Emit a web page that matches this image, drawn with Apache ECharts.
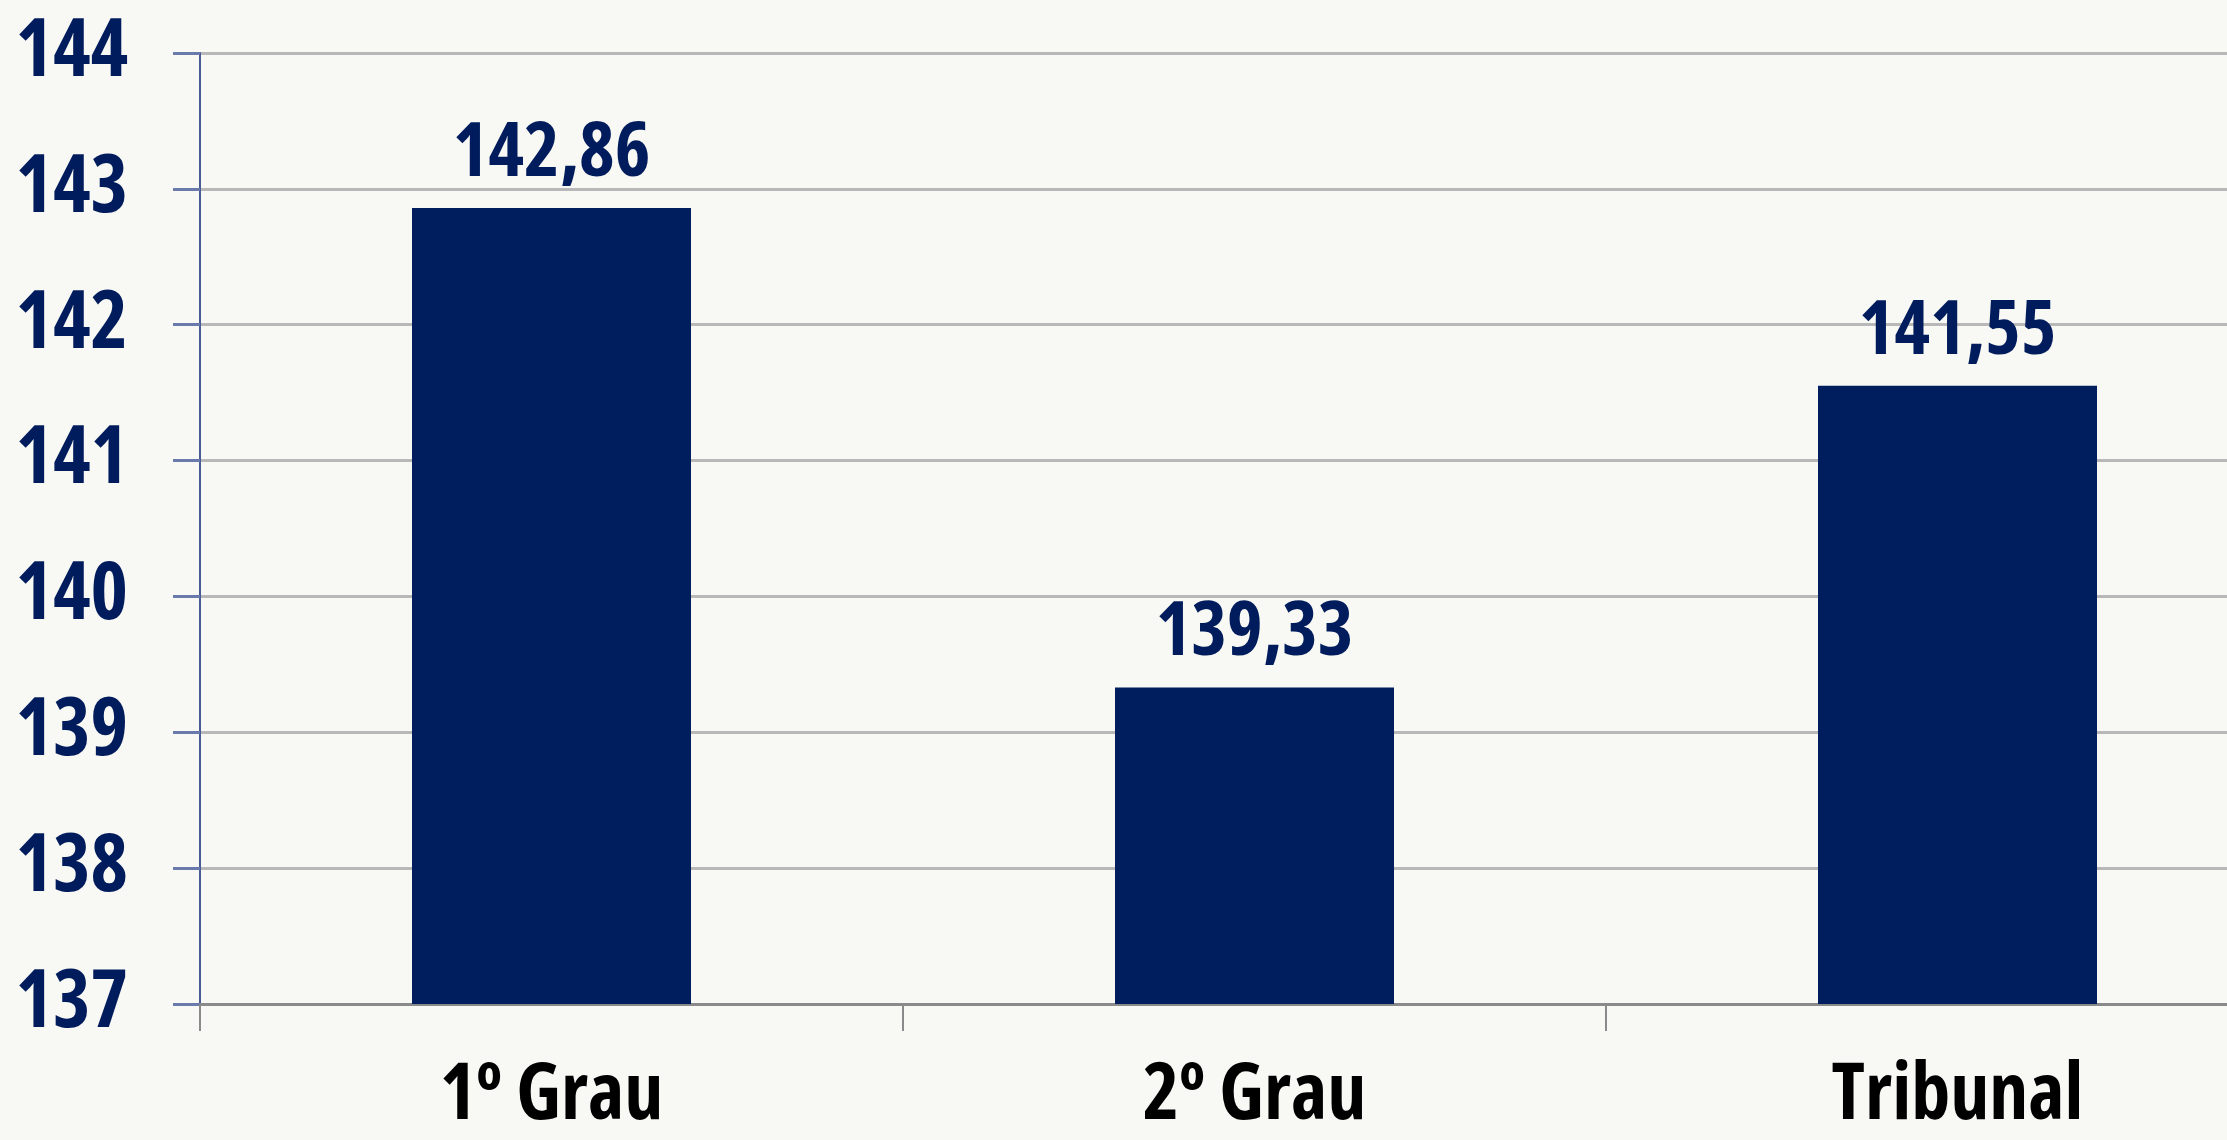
<!DOCTYPE html>
<html><head><meta charset="utf-8">
<script src="https://cdn.jsdelivr.net/npm/echarts@6/dist/echarts.min.js"></script>
<style>html,body{margin:0;padding:0;background:#f8f8f4;}#c{width:2227px;height:1140px;}</style>
</head><body><div id="c"></div>
<script>
const categories = ['1º Grau', '2º Grau', 'Tribunal'];
const values = [142.86, 139.33, 141.55];
const yTicks = [137, 138, 139, 140, 141, 142, 143, 144];

const FONT = '"Open Sans", "Roboto Condensed", sans-serif';
const WEIGHT = 'condensed bold';
const chart = echarts.init(document.getElementById('c'));
chart.setOption({
  backgroundColor: '#f8f8f4',
  animation: false,
  grid: { left: 200, right: -82, top: 53, bottom: 136, containLabel: false, outerBoundsMode: 'none' },
  xAxis: {
    type: 'category',
    data: categories,
    boundaryGap: true,
    axisLine: { show: true, lineStyle: { color: '#8a8a8a', width: 3 } },
    axisTick: { show: true, length: 27, lineStyle: { color: '#8a8a8a', width: 2 } },
    axisLabel: { color: '#000', fontFamily: FONT, fontWeight: WEIGHT, fontSize: 78, margin: 54, lineHeight: 78 }
  },
  yAxis: {
    type: 'value',
    min: yTicks[0], max: yTicks[yTicks.length - 1], interval: 1,
    axisLine: { show: true, lineStyle: { color: '#4a5a98', width: 2 } },
    axisTick: { show: true, length: 27, lineStyle: { color: '#6a7aaa', width: 3 } },
    axisLabel: { color: '#001c5c', fontFamily: FONT, fontWeight: WEIGHT, fontSize: 80, margin: 72,
      formatter: v => String(v) },
    splitLine: { show: true, lineStyle: { color: '#b8b8b8', width: 3 } }
  },
  series: [{
    type: 'bar',
    data: values,
    barWidth: 279,
    itemStyle: { color: '#001e5e' },
    label: {
      show: true, position: 'top', distance: 16,
      color: '#001c5c', fontFamily: FONT, fontWeight: WEIGHT, fontSize: 76, lineHeight: 76,
      formatter: p => p.value.toFixed(2).replace('.', ',')
    }
  }]
});
</script></body></html>
